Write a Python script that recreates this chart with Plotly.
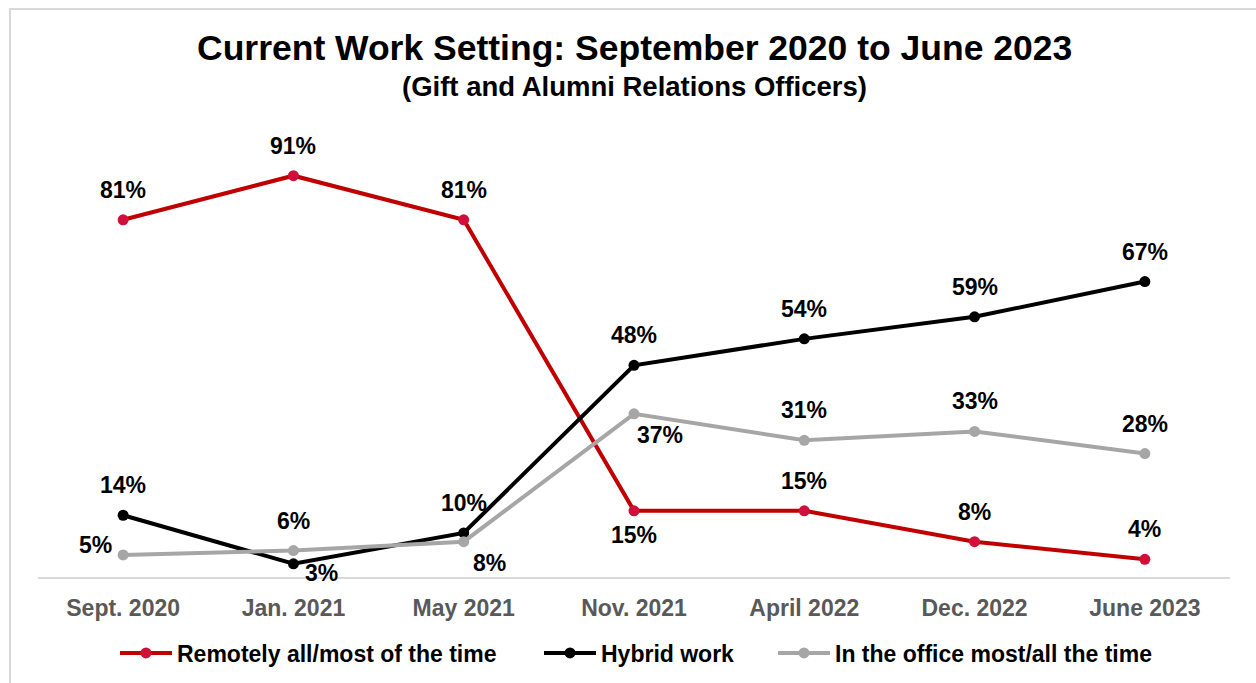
import plotly.graph_objects as go

# Survey waves and share of respondents (%) in each work setting
periods = ["Sept. 2020", "Jan. 2021", "May 2021", "Nov. 2021", "April 2022", "Dec. 2022", "June 2023"]
remote = [81, 91, 81, 15, 15, 8, 4]
hybrid = [14, 3, 10, 48, 54, 59, 67]
office = [5, 6, 8, 37, 31, 33, 28]

series_names = ["Remotely all/most of the time", "Hybrid work", "In the office most/all the time"]

W, H = 1256, 683
M = dict(l=38, r=26, t=136, b=106, autoexpand=False)
FONT = "Liberation Sans, Arial, sans-serif"

# value-label offsets (px) from each point: above, below, below-right, left
UP, DOWN, DR_SMALL, DR, LEFT = (0, 30), (0, -24), (28, -9), (26, -21), (-28, 10)
remote_off = [UP, UP, UP, DOWN, UP, UP, UP]
hybrid_off = [UP, DR_SMALL, UP, UP, UP, UP, UP]
office_off = [LEFT, UP, DR, DR, UP, UP, UP]

pw = W - M["l"] - M["r"]
ph = H - M["t"] - M["b"]

def px_x(p):
    return (p - M["l"]) / pw

def px_y(p):
    return (H - M["b"] - p) / ph

fig = go.Figure()

styles = [
    (remote, series_names[0], "#C00000", "#D0103A", remote_off, "legend"),
    (hybrid, series_names[1], "#000000", "#000000", hybrid_off, "legend2"),
    (office, series_names[2], "#A6A6A6", "#A6A6A6", office_off, "legend3"),
]

annotations = []
for vals, name, lc, mc, offs, lg in styles:
    fig.add_trace(go.Scatter(
        x=periods, y=vals, name=name,
        mode="lines+markers",
        line=dict(color=lc, width=4),
        marker=dict(color=mc, size=11),
        cliponaxis=False,
        legend=lg,
    ))
    for cat, v, (dx, dy) in zip(periods, vals, offs):
        annotations.append(dict(
            x=cat, y=v, xref="x", yref="y", text=f"{v}%",
            showarrow=False, xanchor="center", yanchor="middle",
            xshift=dx, yshift=dy,
            font=dict(family=FONT, size=23, color="#000000", weight="bold"),
        ))

annotations += [
    dict(text="<b>Current Work Setting: September 2020 to June 2023</b>",
         xref="paper", yref="paper", x=px_x(634), y=px_y(48),
         xanchor="center", yanchor="middle", showarrow=False,
         font=dict(family=FONT, size=35.5, color="#000000")),
    dict(text="<b>(Gift and Alumni Relations Officers)</b>",
         xref="paper", yref="paper", x=px_x(634), y=px_y(87),
         xanchor="center", yanchor="middle", showarrow=False,
         font=dict(family=FONT, size=27.5, color="#000000")),
]

legend_font = dict(family=FONT, size=23, color="#000000", weight="bold")

def legend_at(px_left):
    return dict(
        orientation="h", x=px_x(px_left), xanchor="left",
        y=px_y(653), yanchor="middle",
        font=legend_font, itemwidth=52,
        bgcolor="rgba(0,0,0,0)",
    )

fig.update_layout(
    width=W, height=H,
    margin=M,
    paper_bgcolor="white",
    plot_bgcolor="white",
    font=dict(family=FONT, color="#000000"),
    xaxis=dict(
        type="category",
        showgrid=False, zeroline=False,
        showline=True, linecolor="#D9D9D9", linewidth=2,
        ticks="",
        tickfont=dict(family=FONT, size=23, color="#595959", weight="bold"),
        ticklabelstandoff=9,
        range=[-0.5, 6.5],
        automargin=False,
    ),
    yaxis=dict(range=[0, 100], visible=False, automargin=False),
    showlegend=True,
    legend=legend_at(115),
    legend2=legend_at(539),
    legend3=legend_at(773),
    annotations=annotations,
    shapes=[
        dict(type="rect", xref="paper", yref="paper",
             x0=px_x(10), x1=px_x(1262), y0=px_y(690), y1=px_y(9),
             line=dict(color="#D9D9D9", width=2), fillcolor="rgba(0,0,0,0)",
             layer="below"),
    ],
)

fig.write_html("out.html")
